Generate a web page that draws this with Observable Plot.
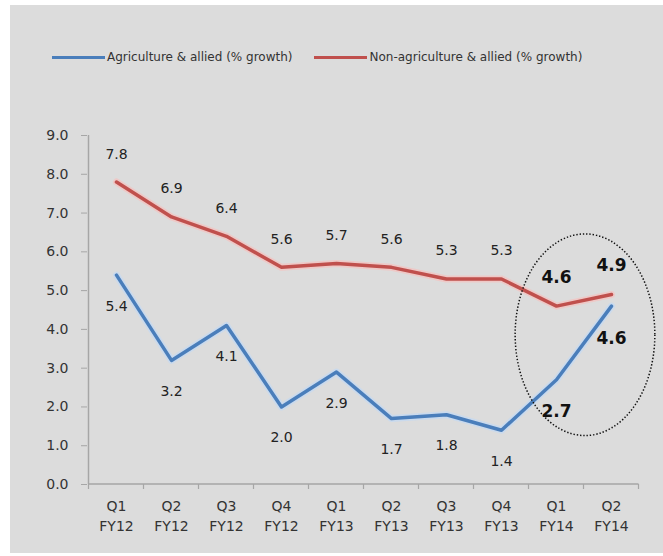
<!DOCTYPE html>
<html><head><meta charset="utf-8">
<script src="https://cdn.jsdelivr.net/npm/d3@7"></script>
<script src="https://cdn.jsdelivr.net/npm/@observablehq/plot@0.6"></script>
<style>
html,body{margin:0;padding:0;background:#ffffff;}
#panel{position:absolute;left:10px;top:5px;width:653px;height:548px;background:#dcdcdc;overflow:hidden;}
#legend{position:absolute;left:42px;top:45px;display:flex;align-items:center;font-family:"DejaVu Sans",sans-serif;font-size:12px;color:#333;line-height:14px;white-space:nowrap;}
#legend .sw{display:inline-block;width:53px;height:3px;margin-right:2px;}
#legend .item{display:flex;align-items:center;}
#chart{position:absolute;left:0;top:100px;}
</style></head><body>
<div id="panel"><div id="legend"></div><div id="chart"></div></div>
<script>
const quarters = ["Q1","Q2","Q3","Q4","Q1","Q2","Q3","Q4","Q1","Q2"];
const fiscalYears = ["FY12","FY12","FY12","FY12","FY13","FY13","FY13","FY13","FY14","FY14"];
const agriculture = [5.4,3.2,4.1,2.0,2.9,1.7,1.8,1.4,2.7,4.6];
const nonAgriculture = [7.8,6.9,6.4,5.6,5.7,5.6,5.3,5.3,4.6,4.9];
const seriesNames = ["Agriculture & allied (% growth)","Non-agriculture & allied (% growth)"];
const seriesColors = ["#4a7ebb","#c0504d"];
const highlighted = ["Q1 FY14","Q2 FY14"];
const yTicks = [0,1,2,3,4,5,6,7,8,9];

const categories = quarters.map((q,i) => q + " " + fiscalYears[i]);
const rows = [];
categories.forEach((c,i) => {
  rows.push({cat:c, series:seriesNames[0], value:agriculture[i]});
  rows.push({cat:c, series:seriesNames[1], value:nonAgriculture[i]});
});
const agriRows = rows.filter(d => d.series === seriesNames[0]);
const nonRows = rows.filter(d => d.series === seriesNames[1]);
const isHi = d => highlighted.includes(d.cat);

// legend
const legend = document.getElementById("legend");
seriesNames.forEach((name,i) => {
  const item = document.createElement("span");
  item.className = "item";
  if (i > 0) item.style.marginLeft = "22px";
  const sw = document.createElement("span");
  sw.className = "sw";
  sw.style.background = seriesColors[i];
  const t = document.createElement("span");
  t.textContent = name;
  item.appendChild(sw); item.appendChild(t);
  legend.appendChild(item);
});

function axisFrame(index, scales) {
  const x = scales.x, y = scales.y;
  const step = x(categories[1]) - x(categories[0]);
  const g = d3.create("svg:g");
  const x0 = x(categories[0]) - step/2;
  const x1 = x(categories[categories.length-1]) + step/2;
  g.append("line").attr("x1",x0).attr("x2",x0).attr("y1",y(0)).attr("y2",y(yTicks[yTicks.length-1]))
    .attr("stroke","#a6a6a6").attr("stroke-width",1.5);
  g.append("line").attr("x1",x0).attr("x2",x1).attr("y1",y(0)).attr("y2",y(0))
    .attr("stroke","#a6a6a6").attr("stroke-width",1.5);
  for (let i = 0; i <= categories.length; i++) {
    const bx = x0 + i*step;
    g.append("line").attr("x1",bx).attr("x2",bx).attr("y1",y(0)).attr("y2",y(0)+5)
      .attr("stroke","#a6a6a6").attr("stroke-width",1.2);
  }
  return g.node();
}

function highlightEllipse(index, scales) {
  const x = scales.x, y = scales.y;
  const step = x(categories[1]) - x(categories[0]);
  const cx = (x(highlighted[0]) + x(highlighted[1]))/2 + 1.5;
  const cy = y(3.85);
  const rx = step*1.27;
  const ry = y(3.85 - 2.6) - y(3.85);
  const g = d3.create("svg:g");
  g.append("ellipse").attr("cx",cx).attr("cy",cy).attr("rx",rx).attr("ry",ry)
    .attr("fill","none").attr("stroke","#111").attr("stroke-width",1.5)
    .attr("stroke-dasharray","1.4 1.9");
  return g.node();
}

const chart = Plot.plot({
  width: 653, height: 448,
  marginLeft: 77, marginRight: 23, marginTop: 30, marginBottom: 69,
  style: {background: "transparent", fontFamily: "DejaVu Sans, sans-serif", color: "#333"},
  x: {type: "point", domain: categories, padding: 0.5, axis: null},
  y: {domain: [0, 9], axis: null},
  marks: [
    Plot.axisY(yTicks, {label: null, tickFormat: d => d.toFixed(1), tickSize: 6, tickPadding: 13, fontSize: 14, fill: "#333", stroke: "#a6a6a6"}),
    axisFrame,
    Plot.text(categories, {x: d => d, text: d => quarters[categories.indexOf(d)], frameAnchor: "bottom", dy: 26, fontSize: 14, fill: "#333"}),
    Plot.text(categories, {x: d => d, text: d => fiscalYears[categories.indexOf(d)], frameAnchor: "bottom", dy: 46, fontSize: 14, fill: "#333"}),
    Plot.line(agriRows, {x: "cat", y: "value", stroke: "#c6d9f1", strokeWidth: 7, strokeOpacity: 0.8}),
    Plot.line(nonRows, {x: "cat", y: "value", stroke: "#f2c4c2", strokeWidth: 7, strokeOpacity: 0.8}),
    Plot.line(agriRows, {x: "cat", y: "value", stroke: seriesColors[0], strokeWidth: 3.5}),
    Plot.line(nonRows, {x: "cat", y: "value", stroke: seriesColors[1], strokeWidth: 3.5}),
    Plot.text(nonRows.filter(d => !isHi(d)), {x: "cat", y: "value", text: d => d.value.toFixed(1), dy: -28, fontSize: 14, fill: "#222"}),
    Plot.text(agriRows.filter(d => !isHi(d)), {x: "cat", y: "value", text: d => d.value.toFixed(1), dy: 31, fontSize: 14, fill: "#222"}),
    Plot.text(nonRows.filter(isHi), {x: "cat", y: "value", text: d => d.value.toFixed(1), dy: -29, fontSize: 17, fontWeight: "bold", fill: "#111"}),
    Plot.text(agriRows.filter(isHi), {x: "cat", y: "value", text: d => d.value.toFixed(1), dy: 32, fontSize: 17, fontWeight: "bold", fill: "#111"}),
    highlightEllipse
  ]
});
document.getElementById("chart").appendChild(chart);
</script>
</body></html>
